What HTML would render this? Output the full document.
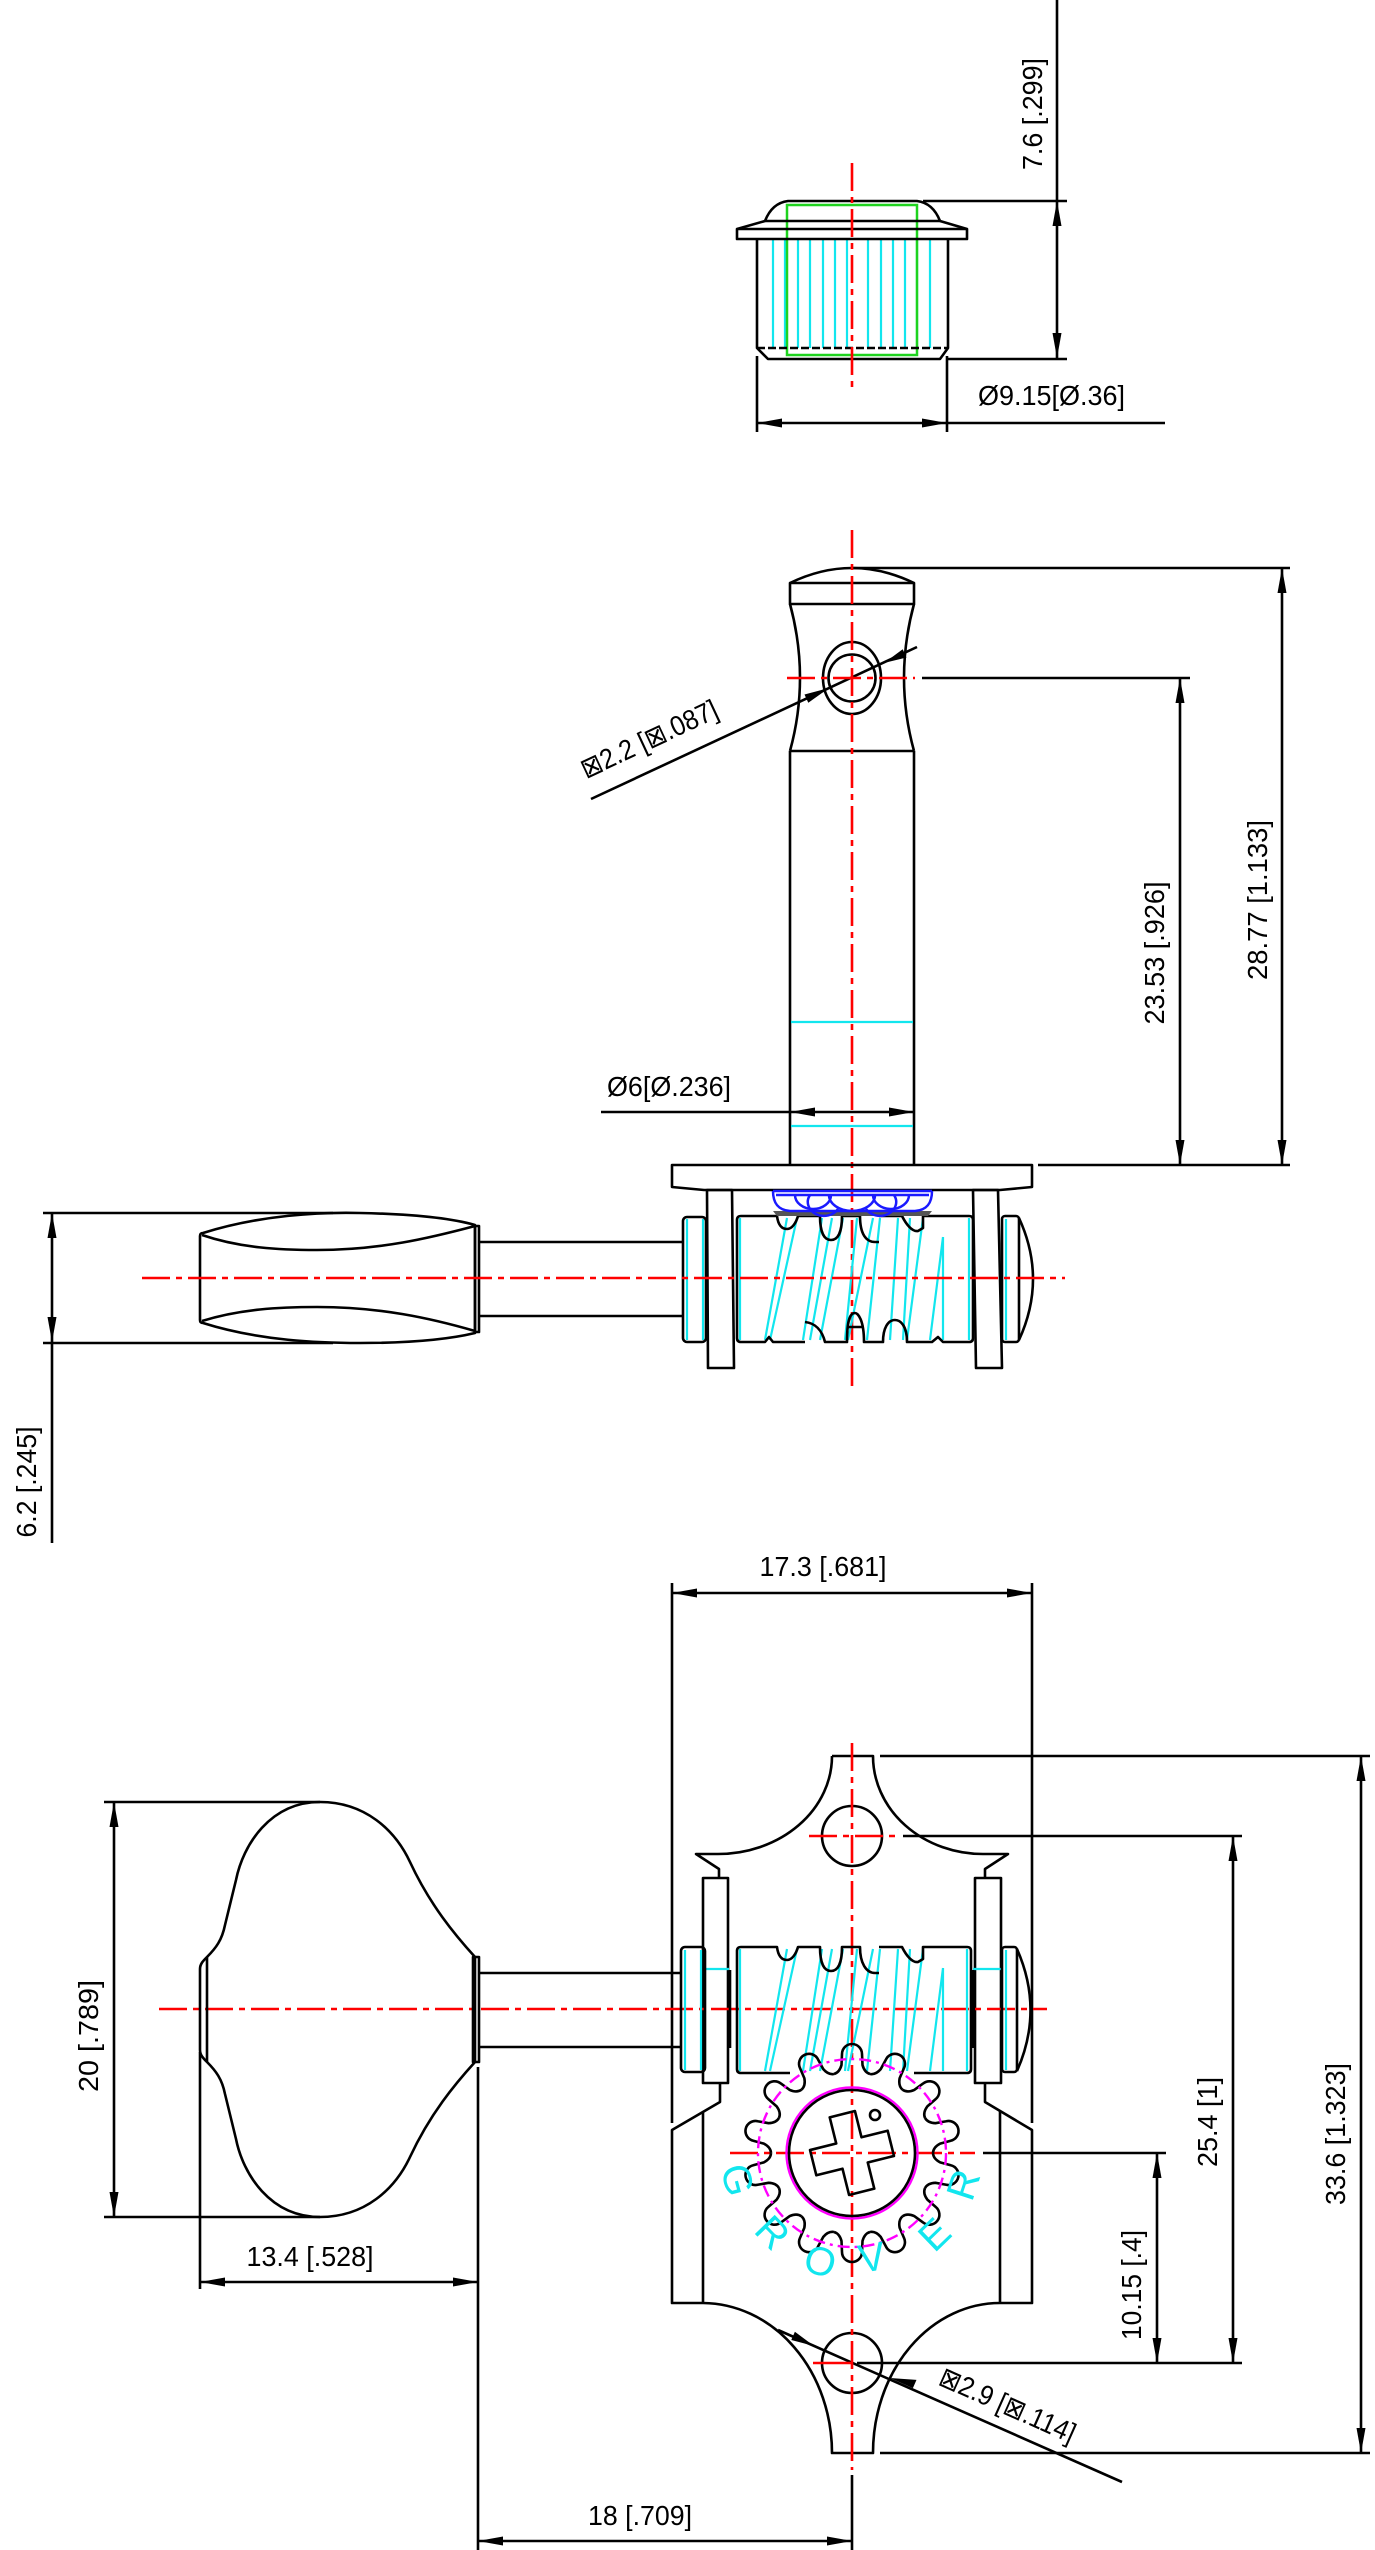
<!DOCTYPE html>
<html><head><meta charset="utf-8"><style>
html,body{margin:0;padding:0;background:#fff;}
svg{display:block;}
.k{stroke:#000;stroke-width:2.6;fill:none;stroke-linejoin:round}
.r{stroke:#f00;stroke-width:2.6;stroke-dasharray:28 6 6 6;fill:none}
.c{stroke:#12e6ee;stroke-width:2.2;fill:none}
.b{stroke:#1a1aff;stroke-width:2.5;fill:none}
.t{font-family:"Liberation Sans","DejaVu Sans",sans-serif;font-size:28px;fill:#000}
.a{fill:#000;stroke:none}
</style></head><body>
<svg xmlns="http://www.w3.org/2000/svg" width="1375" height="2550" viewBox="0 0 1375 2550">
<defs>
<path id="tooth" d="M-18.02,-78.97 Q-12.5,-80.5 -10.5,-88 L-10,-99 A10,10 0 0 1 10,-99 L10.5,-88 Q12.5,-80.5 18.02,-78.97"/>
</defs>
<rect width="1375" height="2550" fill="#fff"/>

<!-- ================= TOP VIEW ================= -->
<g class="c">
<path d="M773,239V348M785,239V348M798,239V348M810,239V348M823,239V348M835,239V348M847,239V348M868,239V348M881,239V348M893,239V348M905,239V348M917,239V348M930,239V348"/>
</g>
<rect x="787" y="205" width="130" height="150" fill="none" stroke="#1ed31e" stroke-width="2.5"/>
<g class="k">
<path d="M765,221 Q772,203 788,201 L917,201 Q933,203 940,221 Z"/>
<path d="M765,221 L737,229 M940,221 L967,229"/>
<rect x="737" y="229" width="230" height="10"/>
<path d="M757,239 V348 L768,359 H940 L948,348 V239"/>
<path d="M757,348 H948" stroke-dasharray="8 3"/>
<path d="M1057,0 V359 M923,201 H1067 M947,359 H1067"/>
<path d="M757,356 V432 M947,356 V432 M757,423 H1165"/>
</g>
<path class="r" d="M852,163 V393"/>
<polygon class="a" points="1057,201 1052.5,226 1061.5,226"/>
<polygon class="a" points="1057,358 1052.5,333 1061.5,333"/>
<polygon class="a" points="757,423 782,418.5 782,427.5"/>
<polygon class="a" points="947,423 922,418.5 922,427.5"/>
<text class="t" transform="translate(1042,114) rotate(-90)" text-anchor="middle" textLength="112" lengthAdjust="spacingAndGlyphs">7.6 [.299]</text>
<text class="t" x="978" y="405" textLength="147" lengthAdjust="spacingAndGlyphs">Ø9.15[Ø.36]</text>

<!-- ================= SIDE VIEW ================= -->
<g class="k">
<path d="M790,583 Q852,553 914,583"/>
<rect x="790" y="583" width="124" height="21"/>
<path d="M790,604 Q810,678 790,751 M914,604 Q894,678 914,751 M790,751 H914"/>
<path d="M790,751 V1166 M914,751 V1166"/>
<ellipse cx="852" cy="678" rx="29" ry="36"/>
<circle cx="852" cy="678" r="23.5"/>
<path d="M852,568 H1290 M922,678 H1190 M1038,1165 H1290"/>
<path d="M1180,678 V1166 M1282,568 V1166"/>
<path d="M601,1112 H914"/>
<path d="M591,799 L917,647"/>
</g>
<path class="c" d="M791,1022 H913 M791,1126 H913"/>
<path class="r" d="M852,530 V1392"/>
<path class="r" d="M787,678 H915"/>
<polygon class="a" points="1180,678 1175.5,703 1184.5,703"/>
<polygon class="a" points="1180,1165 1175.5,1140 1184.5,1140"/>
<polygon class="a" points="1282,568 1277.5,593 1286.5,593"/>
<polygon class="a" points="1282,1165 1277.5,1140 1286.5,1140"/>
<polygon class="a" points="790,1112 815,1107.5 815,1116.5"/>
<polygon class="a" points="914,1112 889,1107.5 889,1116.5"/>
<polygon class="a" points="829,688 808.3,702.7 804.5,694.5"/>
<polygon class="a" points="884,663 906.5,657.5 902.7,649.3"/>
<text class="t" transform="translate(586,779) rotate(-25)" textLength="148" lengthAdjust="spacingAndGlyphs">⊠2.2 [⊠.087]</text>
<text class="t" x="607" y="1096" textLength="124" lengthAdjust="spacingAndGlyphs">Ø6[Ø.236]</text>
<text class="t" transform="translate(1164,953) rotate(-90)" text-anchor="middle" textLength="143" lengthAdjust="spacingAndGlyphs">23.53 [.926]</text>
<text class="t" transform="translate(1267,900) rotate(-90)" text-anchor="middle" textLength="160" lengthAdjust="spacingAndGlyphs">28.77 [1.133]</text>

<!-- plate & posts -->
<g class="k">
<path d="M672,1165 H1032 V1187 L1000,1190 H704 L672,1187 Z"/>
<path d="M707,1190 H732 L734,1368 H708 Z"/>
<path d="M973,1190 H998 L1002,1368 H976 Z"/>
</g>
<!-- side worm cyan -->
<g class="c">
<path d="M740,1218 V1340 M969,1218 V1340"/>
<path d="M765,1340 L787,1218 M770,1340 L797,1218 M803,1340 L822,1218 M810,1340 L832,1218 M820,1340 L843,1218 M845,1340 L857,1218 M848,1340 L873,1218 M867,1340 L880,1218 M890,1340 L898,1218 M903,1340 L910,1218 M907,1340 L923,1218 M930,1340 L943,1237 M943,1340 L943,1237"/>
<path d="M687,1219 V1340 M703,1219 V1340 M1006,1219 V1340"/>
</g>
<g class="k">
<path d="M741,1216 H777 C778,1224 781,1229 787,1229 C792,1229 796,1223 798,1216 H820 C820,1232 824,1240 831,1240 C838,1240 842,1232 842,1216 H860 C860,1234 866,1242 875,1242 L879,1242 M879,1216 H902 C906,1224 912,1232 918,1231 L923,1228 L923,1216 H969 Q973,1216 973,1220 V1338 Q973,1342 969,1342 H943 L938,1337 L932,1342 H907 C907,1325 900,1320 895,1320 C888,1320 883,1328 883,1342 H864 C864,1320 858,1313 855,1313 C850,1313 847,1320 847,1342 H825 C822,1330 815,1323 805,1322 M805,1342 H773 L769,1337 L765,1342 H741 Q737,1342 737,1338 V1220 Q737,1216 741,1216"/>
<path d="M847,1327 H864"/>
<rect x="683" y="1217" width="23" height="125" rx="4"/>
<rect x="1002" y="1216" width="17" height="126" rx="3"/>
<path d="M1019,1218 Q1047,1279 1019,1340"/>
<path d="M479,1242 H683 M479,1316 H683"/>
</g>
<!-- blue gear side -->
<polygon points="773,1211 932,1211 928,1216 777,1216" fill="#555"/>
<g class="b">
<path d="M773,1191 H932 M776,1195 H929"/>
<path d="M773,1191 C773,1203 778,1210 790,1211 H915 C927,1210 932,1203 932,1191"/>
<path d="M795,1195 A18,14 0 0 0 831,1195 M829,1195 A23,16 0 0 0 875,1195 M873,1195 A18,14 0 0 0 909,1195"/>
<path d="M810,1195 A14,12 0 0 0 838,1209 M866,1209 A14,12 0 0 0 894,1195"/>
</g>
<!-- side knob -->
<g class="k">
<path d="M200,1236 Q200,1233 203,1233 C260,1215 320,1212 360,1213 C410,1214 450,1218 475,1225 V1333 C450,1339 410,1343 360,1343 C320,1343 260,1341 203,1323 Q200,1323 200,1320 Z"/>
<path d="M202,1235 C240,1248 280,1250 317,1250 C380,1250 430,1238 475,1226"/>
<path d="M202,1321 C240,1309 280,1307 317,1307 C380,1307 430,1318 475,1331"/>
<rect x="475" y="1226" width="4" height="106"/>
<path d="M43,1213 H333 M43,1343 H333 M52,1213 V1543"/>
</g>
<path class="r" d="M142,1278 H1065"/>
<polygon class="a" points="52,1213 47.5,1238 56.5,1238"/>
<polygon class="a" points="52,1342 47.5,1317 56.5,1317"/>
<text class="t" transform="translate(36,1482) rotate(-90)" text-anchor="middle" textLength="111" lengthAdjust="spacingAndGlyphs">6.2 [.245]</text>

<!-- ================= BOTTOM VIEW ================= -->
<g class="k">
<path d="M672,1583 V2123 M1032,1583 V2123 M672,1593 H1032"/>
<!-- plate outline top -->
<path d="M832,1756 H873 A110,98 0 0 0 983,1854 H1008 L985,1869 V1878"/>
<path d="M832,1756 A114,98 0 0 1 718,1854 H696 L719,1869 V1878"/>
<!-- plate outline bottom -->
<path d="M720,2083 V2102 L672,2130 V2303 H703 A130,150 0 0 1 832,2453 H873 A127,150 0 0 1 1000,2303 H1032 V2130 L985,2102 V2083"/>
<path d="M703,2112 V2303 M1000,2111 V2303"/>
<rect x="703" y="1878" width="25" height="205"/>
<rect x="975" y="1878" width="26" height="205"/>
<circle cx="852" cy="1836" r="30"/>
<circle cx="852" cy="2363" r="30"/>
<path d="M880,1756 H1370 M903,1836 H1242 M983,2153 H1166 M857,2363 H1242 M880,2453 H1370"/>
<path d="M1361,1756 V2453 M1233,1836 V2363 M1157,2153 V2363"/>
<path d="M778,2330 L1122,2482"/>
<path d="M852,2475 V2550 M478,2541 H852"/>
<path d="M104,1802 H320 M104,2217 H320 M114,1802 V2217"/>
<path d="M200,2052 V2289 M478,2067 V2550 M200,2282 H478"/>
</g>
<path class="r" d="M852,1743 V2470"/>
<path class="r" d="M809,1836 H897"/>
<path d="M813,2363 H852" stroke="#f00" stroke-width="2.6"/>
<path class="r" d="M159,2009 H1047"/>
<path class="r" d="M730,2153 H975"/>

<!-- bottom worm -->
<g class="c">
<path d="M740,1949 V2071 M967,1949 V2071"/>
<path d="M765,2071 L787,1949 M770,2071 L797,1949 M803,2071 L822,1949 M810,2071 L832,1949 M820,2071 L843,1949 M845,2071 L857,1949 M848,2071 L873,1949 M867,2071 L880,1949 M890,2071 L898,1949 M903,2071 L910,1949 M907,2071 L923,1949 M930,2071 L943,1968 M943,2071 L943,1968"/>
<path d="M685,1950 V2070 M701,1950 V2070 M1006,1950 V2070"/>
<path d="M705,1969 H729 M973,1969 H1002"/>
</g>
<g class="k">
<path d="M741,1947 H777 C778,1955 781,1960 787,1960 C792,1960 796,1954 798,1947 H820 C820,1963 824,1971 831,1971 C838,1971 842,1963 842,1947 H860 C860,1963 866,1973 875,1973 L879,1973 M879,1947 H902 C906,1955 912,1963 918,1962 L923,1959 L923,1947 H967 Q971,1947 971,1951 V2069 Q971,2073 967,2073 H914 M790,2073 H741 Q737,2073 737,2069 V1951 Q737,1947 741,1947"/>
<rect x="681" y="1947" width="24" height="125" rx="4"/>
<rect x="1002" y="1947" width="15" height="125" rx="3"/>
<path d="M1017,1949 Q1044,2010 1017,2071"/>
<path d="M730,1970 V2048 M973,1970 V2048"/>
<path d="M479,1973 H681 M479,2047 H681"/>
</g>

<!-- gear -->
<g class="k" transform="translate(852,2153)">
<use href="#tooth" transform="rotate(0)"/>
<use href="#tooth" transform="rotate(25.714)"/>
<use href="#tooth" transform="rotate(51.429)"/>
<use href="#tooth" transform="rotate(77.143)"/>
<use href="#tooth" transform="rotate(102.857)"/>
<use href="#tooth" transform="rotate(128.571)"/>
<use href="#tooth" transform="rotate(154.286)"/>
<use href="#tooth" transform="rotate(180)"/>
<use href="#tooth" transform="rotate(205.714)"/>
<use href="#tooth" transform="rotate(231.429)"/>
<use href="#tooth" transform="rotate(257.143)"/>
<use href="#tooth" transform="rotate(282.857)"/>
<use href="#tooth" transform="rotate(308.571)"/>
<use href="#tooth" transform="rotate(334.286)"/>
</g>
<circle cx="852" cy="2153" r="94" fill="none" stroke="#ff00ff" stroke-width="2.4" stroke-dasharray="12 5 3 5"/>
<circle cx="852" cy="2153" r="65.5" fill="none" stroke="#ff00ff" stroke-width="2.4"/>
<circle cx="852" cy="2153" r="63" class="k"/>
<polygon class="k" transform="translate(852,2153) rotate(-14)" points="-13,-40 13,-40 13,-13 40,-13 40,13 13,13 13,40 -13,40 -13,13 -40,13 -40,-13 -13,-13"/>
<circle cx="875" cy="2115" r="5" class="k"/>
<g font-family="Liberation Sans, DejaVu Sans, sans-serif" font-size="40" fill="#12e6ee" text-anchor="middle" dominant-baseline="central">
<text transform="translate(737,2180) rotate(75)">G</text>
<text transform="translate(772,2233) rotate(46)">R</text>
<text transform="translate(820,2262) rotate(17)">O</text>
<text transform="translate(872,2258) rotate(-10)">V</text>
<text transform="translate(935,2235) rotate(-44)">E</text>
<text transform="translate(964,2185) rotate(-72)">R</text>
</g>

<!-- bottom knob -->
<g class="k">
<path d="M207,1957 C216,1948 222,1940 225,1925 L236,1880 C243,1845 270,1802 320,1802 C365,1802 395,1830 410,1862 C430,1905 455,1935 475,1957 V2062 C455,2084 430,2114 410,2157 C395,2189 365,2217 320,2217 C270,2217 243,2174 236,2139 L225,2094 C222,2079 216,2071 207,2062 C203,2058 200,2055 200,2050 V1969 C200,1964 203,1961 207,1957 Z"/>
<path d="M207,1957 V2062"/>
<rect x="473" y="1957" width="6" height="105"/>
</g>

<!-- bottom arrows -->
<polygon class="a" points="672,1593 697,1588.5 697,1597.5"/>
<polygon class="a" points="1032,1593 1007,1588.5 1007,1597.5"/>
<polygon class="a" points="1361,1756 1356.5,1781 1365.5,1781"/>
<polygon class="a" points="1361,2453 1356.5,2428 1365.5,2428"/>
<polygon class="a" points="1233,1836 1228.5,1861 1237.5,1861"/>
<polygon class="a" points="1233,2363 1228.5,2338 1237.5,2338"/>
<polygon class="a" points="1157,2153 1152.5,2178 1161.5,2178"/>
<polygon class="a" points="1157,2363 1152.5,2338 1161.5,2338"/>
<polygon class="a" points="114,1802 109.5,1827 118.5,1827"/>
<polygon class="a" points="114,2217 109.5,2192 118.5,2192"/>
<polygon class="a" points="200,2282 225,2277.5 225,2286.5"/>
<polygon class="a" points="478,2282 453,2277.5 453,2286.5"/>
<polygon class="a" points="478,2541 503,2536.5 503,2545.5"/>
<polygon class="a" points="852,2541 827,2536.5 827,2545.5"/>
<polygon class="a" points="814,2346 791.3,2340 794.9,2331.7"/>
<polygon class="a" points="890,2378 912.9,2388.1 916.5,2379.9"/>

<!-- bottom texts -->
<text class="t" x="823" y="1576" text-anchor="middle" textLength="127" lengthAdjust="spacingAndGlyphs">17.3 [.681]</text>
<text class="t" transform="translate(98,2036) rotate(-90)" text-anchor="middle" textLength="112" lengthAdjust="spacingAndGlyphs">20 [.789]</text>
<text class="t" x="310" y="2266" text-anchor="middle" textLength="127" lengthAdjust="spacingAndGlyphs">13.4 [.528]</text>
<text class="t" x="640" y="2525" text-anchor="middle" textLength="104" lengthAdjust="spacingAndGlyphs">18 [.709]</text>
<text class="t" transform="translate(1217,2122) rotate(-90)" text-anchor="middle" textLength="90" lengthAdjust="spacingAndGlyphs">25.4 [1]</text>
<text class="t" transform="translate(1345,2134) rotate(-90)" text-anchor="middle" textLength="142" lengthAdjust="spacingAndGlyphs">33.6 [1.323]</text>
<text class="t" transform="translate(1141,2285) rotate(-90)" text-anchor="middle" textLength="110" lengthAdjust="spacingAndGlyphs">10.15 [.4]</text>
<text class="t" transform="translate(937,2384) rotate(24)" textLength="146" lengthAdjust="spacingAndGlyphs">⊠2.9 [⊠.114]</text>
</svg>
</body></html>
